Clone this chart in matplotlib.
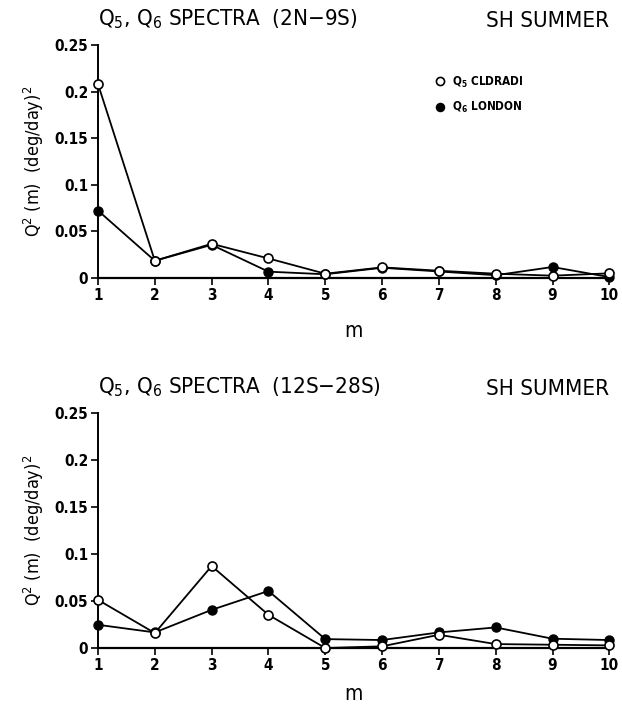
import numpy as np
import matplotlib
matplotlib.use("Agg")
import matplotlib.pyplot as plt

plt.rcParams['font.family'] = ['DejaVu Sans']
plt.rcParams['font.stretch'] = 'condensed'
plt.rcParams['mathtext.default'] = 'regular'

m = [1, 2, 3, 4, 5, 6, 7, 8, 9, 10]

# 2N-9S
q5_north = [0.208, 0.0185, 0.0367, 0.021, 0.0046, 0.0114, 0.0078, 0.0046, 0.0025, 0.005]
q6_north = [0.0723, 0.0185, 0.0356, 0.0068, 0.004, 0.011, 0.007, 0.003, 0.0118, 0.001]
# 12S-28S
q5_south = [0.0512, 0.0159, 0.0872, 0.0353, 0.0, 0.0018, 0.0141, 0.0042, 0.0035, 0.0028]
q6_south = [0.0247, 0.0166, 0.0406, 0.0607, 0.0095, 0.0085, 0.0166, 0.0219, 0.0099, 0.0085]

yticks = [0, 0.05, 0.1, 0.15, 0.2, 0.25]
yticklabels = ["0", "0.05", "0.1", "0.15", "0.2", "0.25"]

fig = plt.figure(figsize=(6.22, 7.09), dpi=100)
ax_top = fig.add_axes([0.1576, 0.6079, 0.822, 0.3286])
ax_bot = fig.add_axes([0.1576, 0.0860, 0.822, 0.3315])

def spectra_panel(ax, q5, q6, region, xpad):
  ax.plot(m, q6, color="black", lw=1.3, marker="o", ms=6.5,
    mfc="black", mec="black", clip_on=False, zorder=3, label="Q$_6$ LONDON")
  ax.plot(m, q5, color="black", lw=1.3, marker="o", ms=6.5,
    mfc="white", mec="black", mew=1.2, clip_on=False, zorder=4, label="Q$_5$ CLDRADI")
  ax.set_xlim(1, 10)
  ax.set_ylim(0, 0.25)
  ax.set_xticks(m)
  ax.set_xticklabels([str(v) for v in m], fontweight="bold", fontsize=11)
  ax.set_yticks(yticks)
  ax.set_yticklabels(yticklabels, fontweight="bold", fontsize=11)
  for side in ["top", "right"]:
    ax.spines[side].set_visible(False)
  ax.spines["left"].set_linewidth(1.4)
  ax.spines["bottom"].set_linewidth(1.6)
  ax.tick_params(direction="out", length=5, width=1.2, pad=2)
  ax.set_ylabel("Q$^2$ (m)  (deg/day)$^2$", fontsize=13, labelpad=6)
  ax.set_xlabel("m", fontsize=15, labelpad=xpad)
  ax.text(0.0, 1.06, "Q$_5$, Q$_6$ SPECTRA  (" + region + ")", transform=ax.transAxes,
    fontsize=16, ha="left", va="bottom")
  ax.text(1.0, 1.06, "SH SUMMER", transform=ax.transAxes,
    fontsize=16, ha="right", va="bottom")

spectra_panel(ax_top, q5_north, q6_north, "2N$-$9S", 13)
spectra_panel(ax_bot, q5_south, q6_south, "12S$-$28S", 8)

handles, labels = ax_top.get_legend_handles_labels()
ax_top.legend(handles[::-1], labels[::-1], loc="upper left", bbox_to_anchor=(0.69, 0.91),
  bbox_transform=fig.transFigure, frameon=False, handlelength=0, handletextpad=1.0,
  markerscale=0.9, prop={"weight": "bold", "size": 8.5}, labelspacing=0.9)

fig.savefig("out.png", dpi=100)
